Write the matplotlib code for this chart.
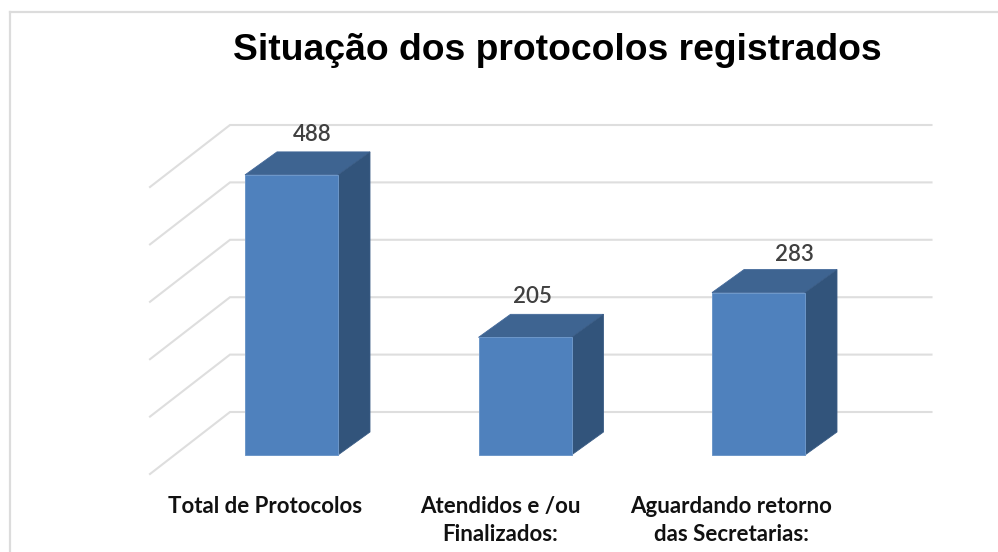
import matplotlib
matplotlib.use("Agg")
import matplotlib.pyplot as plt
from matplotlib.patches import Polygon
from matplotlib.lines import Line2D

title = "Situação dos protocolos registrados"
categories = ["Total de Protocolos", "Atendidos e /ou\nFinalizados:", "Aguardando retorno\ndas Secretarias:"]
values = [488, 205, 283]
grid_values = [0, 100, 200, 300, 400, 500]

W, H = 998, 552
PX_X = 233.5      # pixels per category
PX_Y = 0.574      # pixels per value unit
X0, Y0 = 291.5, 455 # pixel of category 0 / value 0
px = lambda p: p / PX_X
py = lambda p: p / PX_Y

fig = plt.figure(figsize=(W / 100, H / 100), dpi=100, facecolor="white")
ax = fig.add_axes([0, 0, 1, 1])
ax.set_xlim((0 - X0) / PX_X, (W - X0) / PX_X)
ax.set_ylim((Y0 - H) / PX_Y, Y0 / PX_Y)
ax.axis("off")

# chart border
for xs, ys in [((9.5, 9.5), (552, 11.5)), ((9.5, 998), (11.5, 11.5))]:
    fig.add_artist(Line2D([x / W for x in xs], [1 - y / H for y in ys],
                          color="#dcdcdc", lw=1.6))

# gridlines: back wall plus floor/side-wall diagonal
grid_c = "#dedede"
left_front, left_back, right = px(150 - X0), px(230 - X0), px(931.5 - X0)
back_dy, front_dy = py(43), py(-19)
for g in grid_values:
    ax.plot([left_front, left_back, right], [g + front_dy, g + back_dy, g + back_dy],
            color=grid_c, lw=1.5, solid_joinstyle="miter", zorder=1)

# 3-D bars
half = px(46.5)
dx, dy = px(32), py(23)
front_c, top_c, side_c = "#4f81bd", "#3e6491", "#32547b"
for i, v in enumerate(values):
    l, r = i - half, i + half
    ax.add_patch(Polygon([(l, v), (r, v), (r + dx, v + dy), (l + dx, v + dy)],
                         fc=top_c, ec="#44699a", lw=0.6, zorder=3))
    ax.add_patch(Polygon([(r, 0), (r + dx, dy), (r + dx, v + dy), (r, v)],
                         fc=side_c, ec="#3a5c85", lw=0.6, zorder=3))
    ax.add_patch(Polygon([(l, 0), (r, 0), (r, v), (l, v)],
                         fc=front_c, ec="#6d97c9", lw=0.7, zorder=4))

# value labels
label_dx = [21, 8, 36]
label_dy = [40, 41, 38]
for i, v in enumerate(values):
    ax.text(i + px(label_dx[i]), v + py(label_dy[i]), str(v), ha="center", va="center",
            family="Lato", fontsize=16, fontweight="semibold", color="#404040", zorder=5)

# category labels
cat_dx = [-26.5, -24.5, -27.5]
for i, c in enumerate(categories):
    ax.text(i + px(cat_dx[i]), py(-41), c, ha="center", va="top", family="Lato",
            fontsize=16, fontweight="bold", color="#111111", linespacing=1.4, zorder=5)

fig.text(557.5 / W, 1 - 51 / H, title, ha="center", va="center", family="Liberation Sans",
         fontsize=26.8, fontweight="bold", color="black")

fig.savefig("out.png", dpi=100)
